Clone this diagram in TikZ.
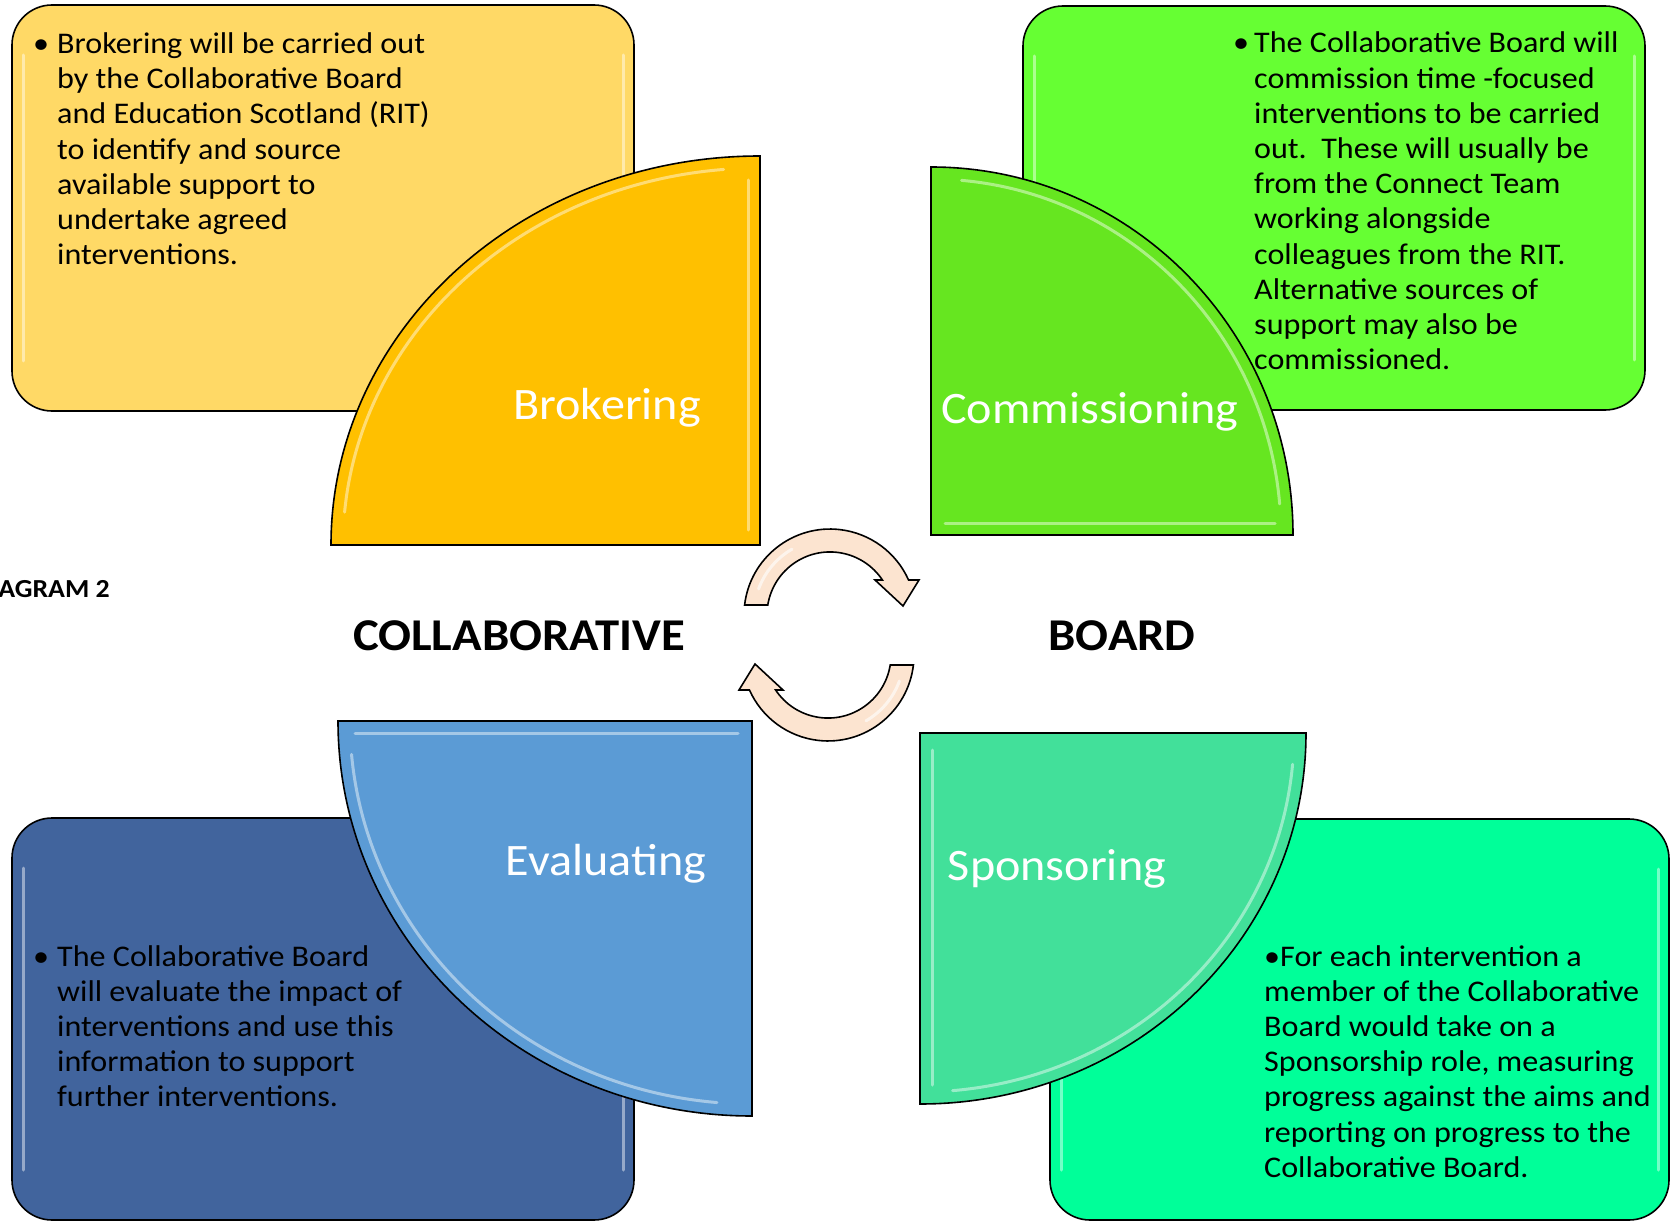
\documentclass[tikz,border=0pt]{standalone}
\usepackage{fontspec}
\setmainfont{Carlito}[FakeStretch=1.07]
\definecolor{goldlight}{HTML}{FFD966}
\definecolor{gold}{HTML}{FFC000}
\definecolor{limelight}{HTML}{66FF33}
\definecolor{lime}{HTML}{66E620}
\definecolor{navy}{HTML}{41649D}
\definecolor{sky}{HTML}{5B9BD5}
\definecolor{mint}{HTML}{00FF99}
\definecolor{jade}{HTML}{42E09A}
\definecolor{peach}{HTML}{FCE4D0}
\begin{document}
\begin{tikzpicture}[x=1pt,y=-1pt,
  panel/.style={draw=black, line width=1.6pt, rounded corners=40pt},
  quarter/.style={draw=black, line width=1.6pt},
  gloss/.style={draw=white, line width=3pt, opacity=0.45, line cap=round},
  bodytext/.style={anchor=base west, inner sep=0pt, font=\fontsize{30}{35.2}\selectfont},
  bullet/.style={anchor=base west, inner sep=0pt, font=\fontsize{30}{35.2}\selectfont},
  label/.style={anchor=base, inner sep=0pt, text=white, font=\fontsize{45}{54}\selectfont},
  heading/.style={anchor=base, inner sep=0pt, font=\bfseries\fontsize{45.5}{52}\selectfont},
  cycarrow/.style={draw=black, line width=1.6pt, fill=peach}]
\useasboundingbox (0,0) rectangle (1671,1222);
\clip (0,0) rectangle (1671,1222);

% ---- rounded text panels ----
\draw[panel, fill=goldlight] (12,5) rectangle (634,411);
\draw[panel, fill=limelight] (1023,6) rectangle (1645,410);
\draw[panel, fill=navy] (12,818) rectangle (634,1220);
\draw[panel, fill=mint] (1050,819) rectangle (1669,1220);
% bevel highlights of the panels
\foreach \l/\t/\r/\b in {12/5/634/411, 1023/6/1645/410, 12/818/634/1220, 1050/819/1669/1220}{
  \draw[gloss] (\l+11,\t+50) -- (\l+11,\b-50);
  \draw[gloss] (\r-11,\t+50) -- (\r-11,\b-50);
}

% ---- quarter-disc title shapes ----
\draw[quarter, fill=gold] (760,156) -- (760,545) -- (331,545)
  arc[start angle=180, end angle=270, x radius=429, y radius=389] -- cycle;
\draw[gloss] (760,545) ++(185:417 and 377) arc[start angle=185, end angle=265, x radius=417, y radius=377];
\draw[gloss] (748,180) -- (748,530);

\draw[quarter, fill=lime] (931,535) -- (931,167)
  arc[start angle=270, end angle=360, x radius=362, y radius=368] -- cycle;
\draw[gloss] (931,535) ++(275:350 and 356) arc[start angle=275, end angle=355, x radius=350, y radius=356];
\draw[gloss] (945,523) -- (1275,523);

\draw[quarter, fill=sky] (752,721) -- (338,721)
  arc[start angle=180, end angle=90, x radius=414, y radius=395] -- cycle;
\draw[gloss] (752,721) ++(175:402 and 383) arc[start angle=175, end angle=95, x radius=402, y radius=383];
\draw[gloss] (355,733) -- (738,733);

\draw[quarter, fill=jade] (920,733) -- (1306,733)
  arc[start angle=0, end angle=90, x radius=386, y radius=371] -- cycle;
\draw[gloss] (920,733) ++(5:374 and 359) arc[start angle=5, end angle=85, x radius=374, y radius=359];
\draw[gloss] (932,750) -- (932,1085);

% ---- circular arrows in the middle ----
\def\toparrow{(744.6,605) arc[start angle=186.7, end angle=336, radius=86]
  -- (919,580) -- (903,606) -- (875,580) -- (882.4,580)
  arc[start angle=326.3, end angle=189.1, radius=63] -- cycle}
\draw[cycarrow] \toparrow;
\draw[cycarrow, rotate around={180:(829,635)}] \toparrow;
\draw[gloss, opacity=0.6] (830,615) ++(200:76) arc[start angle=200, end angle=240, radius=76];
\draw[gloss, opacity=0.6] (828,655) ++(20:76) arc[start angle=20, end angle=60, radius=76];

% ---- titles ----
\node[label] (brokering) at (607,420) {Brokering};
\node[label] (commissioning) at (1090,424) {Commissioning};
\node[label] (evaluating) at (606,875) {Evaluating};
\node[label] (sponsoring) at (1057,880) {Sponsoring};

\node[heading] (collab) at (519,650) {COLLABORATIVE};
\node[heading] (board) at (1122,650) {BOARD};
\node[anchor=base east, inner sep=0pt, font=\bfseries\fontsize{26}{31}\selectfont] (diag) at (110,597) {DIAGRAM 2};

% ---- descriptions ----
\node[bullet] (b1) at (33,53.6) {•};
\node[bodytext] (t1) at (57,53.6) {\begin{tabular}[t]{@{}l@{}}
Brokering will be carried out\\
by the Collaborative Board\\
and Education Scotland (RIT)\\
to identify and source\\
available support to\\
undertake agreed\\
interventions.
\end{tabular}};

\node[bullet] (b2) at (1233,53) {•};
\node[bodytext] (t2) at (1254,53) {\begin{tabular}[t]{@{}l@{}}
The Collaborative Board will\\
commission time -focused\\
interventions to be carried\\
out.\ \ These will usually be\\
from the Connect Team\\
working alongside\\
colleagues from the RIT.\\
Alternative sources of\\
support may also be\\
commissioned.
\end{tabular}};

\node[bullet] (b3) at (33,966) {•};
\node[bodytext] (t3) at (57,966) {\begin{tabular}[t]{@{}l@{}}
The Collaborative Board\\
will evaluate the impact of\\
interventions and use this\\
information to support\\
further interventions.
\end{tabular}};

\node[bodytext] (t4) at (1264,966) {\begin{tabular}[t]{@{}l@{}}
•For each intervention a\\
member of the Collaborative\\
Board would take on a\\
Sponsorship role, measuring\\
progress against the aims and\\
reporting on progress to the\\
Collaborative Board.
\end{tabular}};
\end{tikzpicture}
\end{document}
